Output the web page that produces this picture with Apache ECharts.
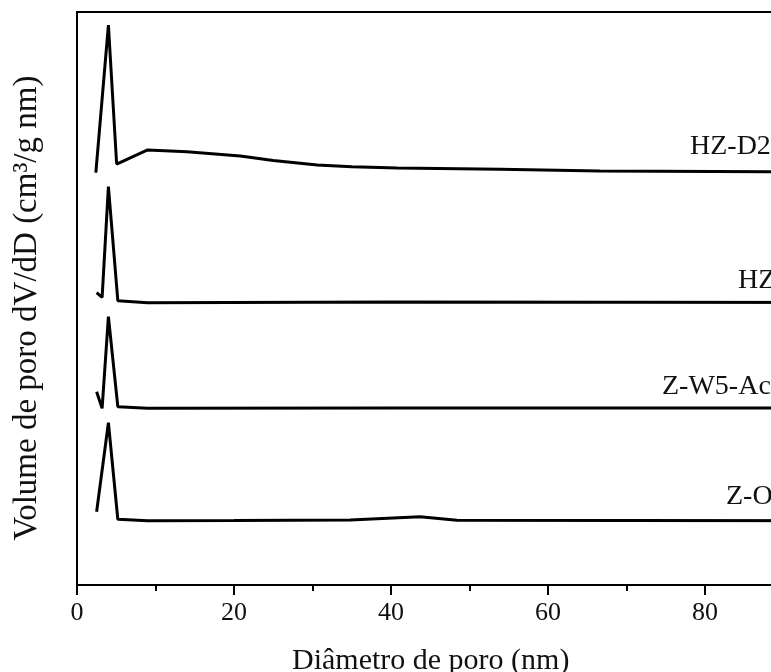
<!DOCTYPE html>
<html>
<head>
<meta charset="utf-8">
<script src="https://cdn.jsdelivr.net/npm/echarts@6/dist/echarts.min.js"></script>
<style>
  html, body { margin: 0; padding: 0; background: #fff; overflow: hidden; width: 771px; height: 672px; }
  #chart { width: 900px; height: 672px; }
</style>
</head>
<body>
<div id="chart"></div>
<script>
// Pore size distributions (curves offset vertically for clarity)
const seriesNames = ['HZ-D2', 'HZ', 'Z-W5-Ac', 'Z-O'];

const hzD2X = [2.4, 4.0, 5.05, 9.0, 14.0, 20.8, 25.0, 30.6, 35.0, 40.8, 53.9, 66.6, 88.4, 100];
const hzD2Y = [71.95, 97.73, 73.47, 75.92, 75.62, 74.87, 74.1, 73.30, 73.0, 72.77, 72.55, 72.25, 72.13, 72.08];

const hzX = [2.5, 3.2, 4.0, 5.2, 9.0, 40.0, 70.0, 100];
const hzY = [51.01, 50.21, 69.51, 49.62, 49.27, 49.39, 49.33, 49.30];

const zw5X = [2.5, 3.2, 4.0, 5.2, 9.0, 40.0, 70.0, 100];
const zw5Y = [33.73, 30.84, 46.82, 31.12, 30.84, 30.89, 30.89, 30.87];

const zoX = [2.5, 4.0, 5.2, 9.0, 20.0, 34.8, 43.7, 48.4, 70.0, 100];
const zoY = [12.79, 28.32, 11.47, 11.22, 11.24, 11.34, 11.92, 11.29, 11.24, 11.22];

const xTicks = { min: 0, max: 100, interval: 20 };

const pairs = (xs, ys) => xs.map((x, i) => [x, ys[i]]);
const curves = [pairs(hzD2X, hzD2Y), pairs(hzX, hzY), pairs(zw5X, zw5Y), pairs(zoX, zoY)];

const serif = '"Liberation Serif", "Times New Roman", serif';

const chart = echarts.init(document.getElementById('chart'), null, { renderer: 'canvas' });

chart.setOption({
  backgroundColor: '#ffffff',
  animation: false,
  grid: {
    left: 77, top: 12, width: 785, bottom: 87,
    show: true, borderColor: '#000', borderWidth: 2, backgroundColor: 'transparent'
  },
  xAxis: {
    type: 'value',
    min: xTicks.min, max: xTicks.max, interval: xTicks.interval,
    axisLine: { show: true, lineStyle: { color: '#000', width: 2 } },
    axisTick: { show: true, inside: false, length: 10, lineStyle: { color: '#000', width: 2 } },
    minorTick: { show: true, splitNumber: 2, length: 6, lineStyle: { color: '#000', width: 2 } },
    axisLabel: { color: '#111', fontFamily: serif, fontSize: 26, margin: 15 },
    splitLine: { show: false }
  },
  yAxis: {
    type: 'value', min: 0, max: 100,
    axisLine: { show: true, lineStyle: { color: '#000', width: 2 } },
    axisTick: { show: false },
    axisLabel: { show: false },
    splitLine: { show: false }
  },
  series: curves.map((data, i) => ({
    name: seriesNames[i],
    type: 'line',
    data: data,
    showSymbol: false,
    smooth: false,
    lineStyle: { color: '#000', width: 3 },
    clip: true
  })),
  graphic: [
    { type: 'text', left: 690, top: 133, style: { text: 'HZ-D2', font: '28px ' + serif, fill: '#111' } },
    { type: 'text', left: 738, top: 267, style: { text: 'HZ', font: '28px ' + serif, fill: '#111' } },
    { type: 'text', left: 662, top: 373, style: { text: 'Z-W5-Ac', font: '28px ' + serif, fill: '#111' } },
    { type: 'text', left: 726, top: 483, style: { text: 'Z-O', font: '28px ' + serif, fill: '#111' } },
    { type: 'text', left: 292, top: 646, style: { text: 'Diâmetro de poro (nm)', font: '30px ' + serif, fill: '#111' } },
    {
      type: 'text', x: 27, y: 308, rotation: Math.PI / 2,
      style: { text: 'Volume de poro dV/dD (cm³/g nm)', font: '33px ' + serif, fill: '#111', align: 'center', verticalAlign: 'middle' }
    }
  ]
});
</script>
</body>
</html>
